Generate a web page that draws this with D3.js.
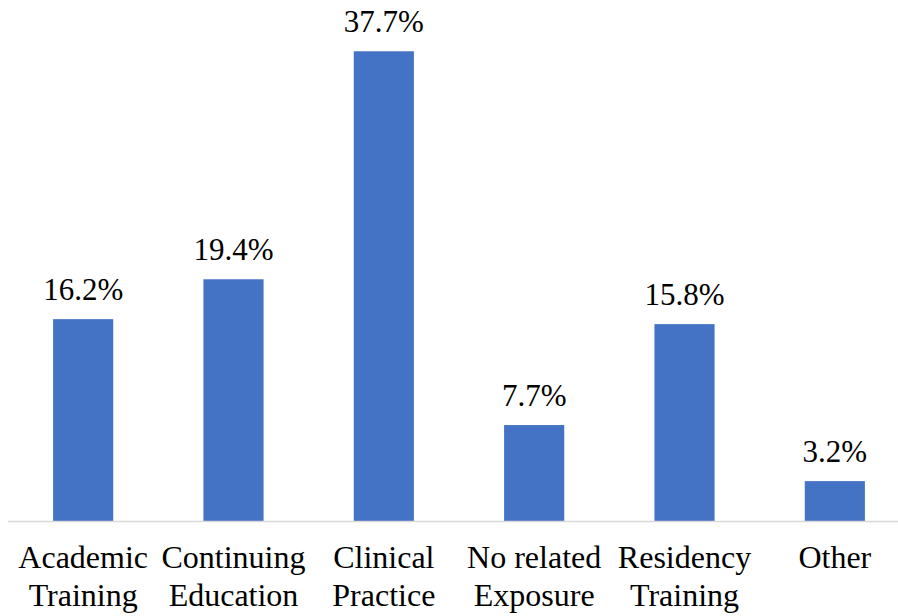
<!DOCTYPE html>
<html>
<head>
<meta charset="utf-8">
<script src="https://cdn.jsdelivr.net/npm/d3@7"></script>
</head>
<body style="margin:0; background:#fff">
<svg id="chart" width="898" height="616"></svg>
<script>
// Source of exposure, share of respondents (%)
const categories = [
  ["Academic", "Training"],
  ["Continuing", "Education"],
  ["Clinical", "Practice"],
  ["No related", "Exposure"],
  ["Residency", "Training"],
  ["Other"]
];
const values = [16.2, 19.4, 37.7, 7.7, 15.8, 3.2];
const yMax = 40;

const svg = d3.select("#chart");
const baseline = 521;

const x = d3.scaleBand()
  .domain(d3.range(categories.length))
  .range([8, 910])
  .paddingInner(0.6)
  .paddingOuter(0.3);

const y = d3.scaleLinear()
  .domain([0, yMax])
  .range([baseline, 22.6]);

// bars
svg.append("g")
  .selectAll("rect")
  .data(values)
  .join("rect")
  .attr("x", (d, i) => x(i))
  .attr("y", d => y(d))
  .attr("width", x.bandwidth())
  .attr("height", d => y(0) - y(d))
  .attr("fill", "#4472C4");

// category axis line
svg.append("line")
  .attr("x1", 8).attr("x2", 898)
  .attr("y1", baseline + 0.5).attr("y2", baseline + 0.5)
  .attr("stroke", "#d9d9d9")
  .attr("stroke-width", 1.5);

// value labels
svg.append("g")
  .selectAll("text")
  .data(values)
  .join("text")
  .attr("x", (d, i) => x(i) + x.bandwidth() / 2)
  .attr("y", d => y(d) - 19.5)
  .attr("text-anchor", "middle")
  .attr("font-family", "Liberation Serif")
  .attr("font-size", 31)
  .attr("fill", "#000")
  .text(d => d.toFixed(1) + "%");

// category labels, one tspan per line
const cat = svg.append("g")
  .selectAll("text")
  .data(categories)
  .join("text")
  .attr("x", (d, i) => x(i) + x.bandwidth() / 2)
  .attr("y", 568)
  .attr("text-anchor", "middle")
  .attr("font-family", "Liberation Serif")
  .attr("font-size", 32)
  .attr("fill", "#000");
cat.selectAll("tspan")
  .data(d => d)
  .join("tspan")
  .attr("x", function () { return d3.select(this.parentNode).attr("x"); })
  .attr("dy", (d, i) => i === 0 ? 0 : 38)
  .text(d => d);
</script>
</body>
</html>
